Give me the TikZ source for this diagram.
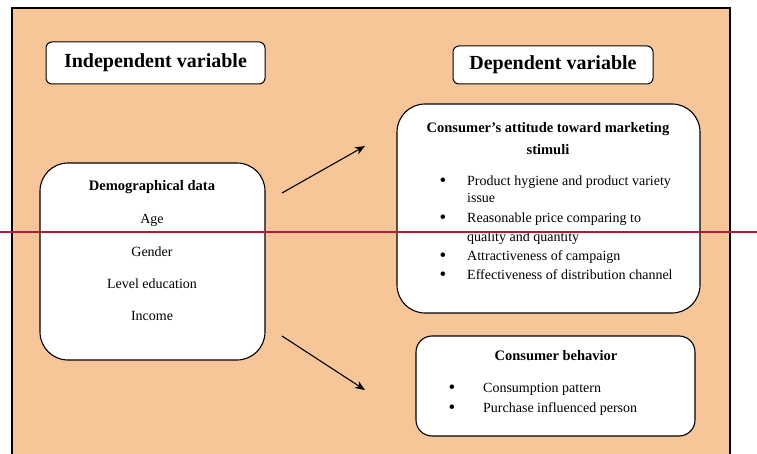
\documentclass[tikz,border=0pt]{standalone}
\usepackage{fontspec}
\setmainfont{Liberation Serif}
\usetikzlibrary{arrows.meta}

\definecolor{peach}{RGB}{247,198,152}
\definecolor{redline}{RGB}{176,28,58}

\tikzset{
    hdr/.style={draw, fill=white, rounded corners=6pt, line width=1pt, inner sep=0pt,
        font=\fontsize{20}{24}\selectfont\bfseries},
    panel/.style={draw, fill=white, line width=1.1pt, inner sep=0pt},
    ttl/.style={inner sep=0pt, yshift=-1.5pt, font=\fontsize{14.5}{18}\selectfont\bfseries},
    txt/.style={inner sep=0pt, yshift=-1.5pt, text height=9.5pt, text depth=3pt, font=\fontsize{14}{17}\selectfont},
    bul/.style={inner sep=0pt, yshift=-1.5pt, font=\fontsize{19}{20}\selectfont},
    arr/.style={-{Stealth[length=10pt,width=8pt]}, line width=1.1pt}
}

\begin{document}
\begin{tikzpicture}[x=1pt, y=-1pt]
        \useasboundingbox (0,0) rectangle (757,454);
        \fill [peach] (12,8) rectangle (730,454);
        \draw [line width=1.3pt] (12,454) -- (12,8) -- (730,8) -- (730,454);

        % headings
        \node [hdr, minimum width=219pt, minimum height=42pt] (indep) at (155.5,63) {Independent variable};
        \node [hdr, minimum width=200pt, minimum height=38pt] (dep) at (553,65) {Dependent variable};

        % panels
        \node [panel, rounded corners=28pt, minimum width=225pt, minimum height=197pt] (demo) at (152.5,261.5) {};
        \node [panel, rounded corners=28pt, minimum width=303pt, minimum height=209pt] (attitude) at (548.5,208.5) {};
        \node [panel, rounded corners=16pt, minimum width=279pt, minimum height=100pt] (behav) at (555.5,386) {};

        % demographical data
        \node [ttl] (demotitle) at (152,186) {Demographical data};
        \node [txt] (age) at (152,219) {Age};
        \node [txt] (gender) at (152,252) {Gender};
        \node [txt] (edu) at (152,284) {Level education};
        \node [txt] (income) at (152,316) {Income};

        % attitude toward marketing stimuli
        \node [ttl] (atttitle) at (548,128) {Consumer's attitude toward marketing};
        \node [ttl] (atttitleb) at (548,148) {stimuli};
        \node [bul] (attb1) at (443,181) {\textbullet};
        \node [txt, anchor=west] (att1) at (467,181) {Product hygiene and product variety};
        \node [txt, anchor=west] (att1b) at (467,198) {issue};
        \node [bul] (attb2) at (443,218) {\textbullet};
        \node [txt, anchor=west] (att2) at (467,218) {Reasonable price comparing to};
        \node [txt, anchor=west] (att2b) at (467,237) {quality and quantity};
        \node [bul] (attb3) at (443,256) {\textbullet};
        \node [txt, anchor=west] (att3) at (467,256) {Attractiveness of campaign};
        \node [bul] (attb4) at (443,275) {\textbullet};
        \node [txt, anchor=west] (att4) at (467,275) {Effectiveness of distribution channel};

        % consumer behavior
        \node [ttl] (behtitle) at (556,354) {Consumer behavior};
        \node [bul] (behb1) at (452,388) {\textbullet};
        \node [txt, anchor=west] (beh1) at (483,388) {Consumption pattern};
        \node [bul] (behb2) at (452,408) {\textbullet};
        \node [txt, anchor=west] (beh2) at (483,408) {Purchase influenced person};

        % arrows
        \coordinate (upfrom) at (282,193);
        \coordinate (upto) at (365,146);
        \coordinate (dnfrom) at (282,336);
        \coordinate (dnto) at (365,390);
        \draw [arr] (upfrom) -- (upto);
        \draw [arr] (dnfrom) -- (dnto);

        \draw [redline, line width=2.5pt] (0,232) -- (757,232);
    \end{tikzpicture}
\end{document}
